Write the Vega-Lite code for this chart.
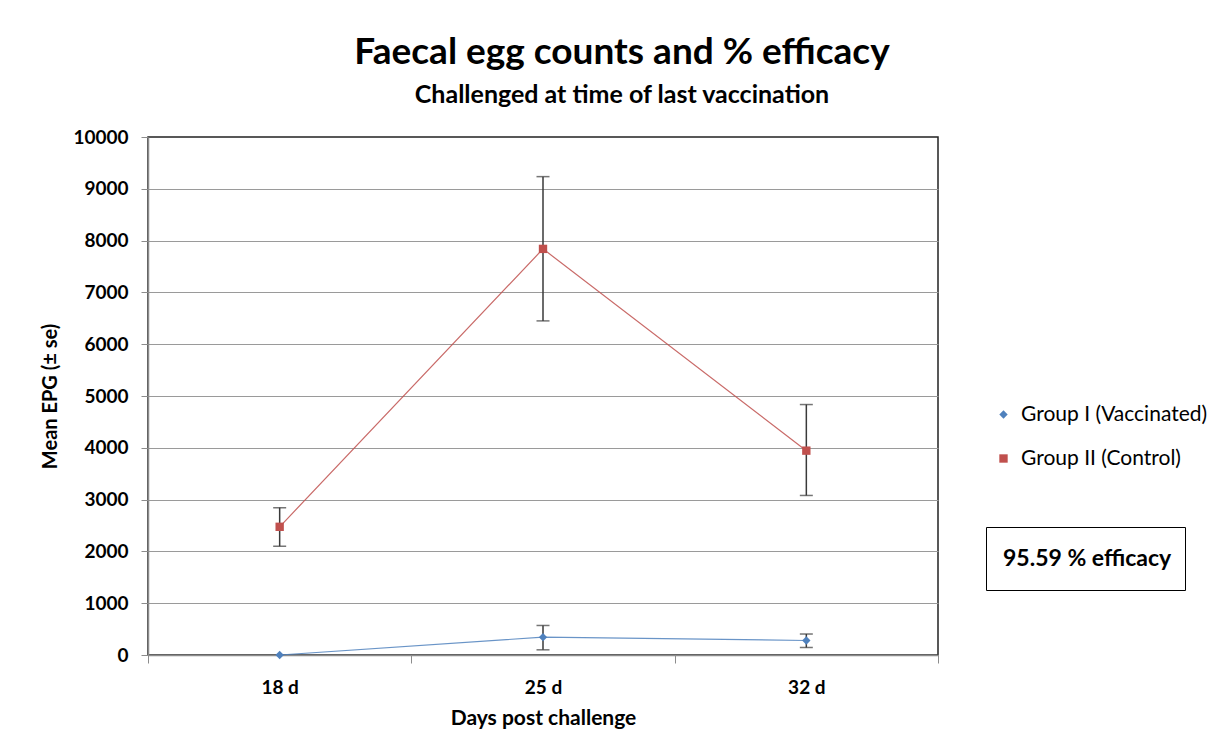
{
  "$schema": "https://vega.github.io/schema/vega-lite/v6.json",
  "autosize": "none",
  "width": 790,
  "height": 518,
  "padding": {"left": 148, "top": 137, "right": 293, "bottom": 101},
  "background": "white",
  "config": {
    "font": "Lato",
    "view": {"stroke": "#222", "strokeWidth": 1.5},
    "axis": {"labelColor": "black", "titleColor": "black", "domainColor": "#8c8c8c", "tickColor": "#8c8c8c", "domainWidth": 1.5}
  },
  "title": {
    "text": "Faecal egg counts and % efficacy",
    "subtitle": "Challenged at time of last vaccination",
    "fontSize": 37,
    "fontWeight": "bold",
    "subtitleFontSize": 25,
    "subtitleFontWeight": "bold",
    "color": "black",
    "subtitleColor": "black",
    "anchor": "middle",
    "dx": 79,
    "offset": 19,
    "subtitlePadding": 11
  },
  "datasets": {
    "epg": [
      {"group": "Group I (Vaccinated)", "day": "18 d", "mean": 0, "lo": null, "hi": null},
      {"group": "Group I (Vaccinated)", "day": "25 d", "mean": 345, "lo": 100, "hi": 570},
      {"group": "Group I (Vaccinated)", "day": "32 d", "mean": 280, "lo": 145, "hi": 405},
      {"group": "Group II (Control)", "day": "18 d", "mean": 2475, "lo": 2100, "hi": 2845},
      {"group": "Group II (Control)", "day": "25 d", "mean": 7840, "lo": 6450, "hi": 9235},
      {"group": "Group II (Control)", "day": "32 d", "mean": 3945, "lo": 3080, "hi": 4835}
    ],
    "note": [{"note": "95.59 % efficacy"}]
  },
  "layer": [
    {
      "data": {"name": "epg"},
      "encoding": {
        "x": {
          "field": "day",
          "type": "ordinal",
          "scale": {"type": "band", "paddingInner": 0, "paddingOuter": 0},
          "axis": {
            "title": "Days post challenge",
            "labelAngle": 0,
            "labelFontSize": 19,
            "labelFontWeight": "bold",
            "labelPadding": 15,
            "tickBand": "extent",
            "tickSize": 8,
            "titleFontSize": 21,
            "titleFontWeight": "bold",
            "titlePadding": 10,
            "grid": false
          }
        }
      },
      "layer": [
        {
          "mark": {"type": "rule", "color": "#3a3a3a", "strokeWidth": 1.5},
          "encoding": {
            "y": {"field": "lo", "type": "quantitative"},
            "y2": {"field": "hi"}
          }
        },
        {
          "mark": {"type": "tick", "color": "#3a3a3a", "size": 13, "thickness": 1.5},
          "encoding": {"y": {"field": "lo", "type": "quantitative"}}
        },
        {
          "mark": {"type": "tick", "color": "#3a3a3a", "size": 13, "thickness": 1.5},
          "encoding": {"y": {"field": "hi", "type": "quantitative"}}
        },
        {
          "mark": {"type": "line", "strokeWidth": 1.2, "opacity": 0.85},
          "encoding": {
            "y": {"field": "mean", "type": "quantitative"},
            "stroke": {"field": "group", "type": "nominal", "scale": {"range": ["#4f81bd", "#c0504d"]}, "legend": null},
            "detail": {"field": "group"}
          }
        },
        {
          "mark": {"type": "point", "filled": true, "opacity": 1},
          "encoding": {
            "y": {
              "field": "mean",
              "type": "quantitative",
              "scale": {"domain": [0, 10000]},
              "axis": {
                "title": "Mean EPG (± se)",
                "values": [0, 1000, 2000, 3000, 4000, 5000, 6000, 7000, 8000, 9000, 10000],
                "format": "d",
                "labelFontSize": 19,
                "labelFontWeight": "bold",
                "labelPadding": 13,
                "tickSize": 7,
                "titleFontSize": 20,
                "titleFontWeight": "bold",
                "titlePadding": 12,
                "gridColor": {"condition": {"test": "datum.value >= 10000", "value": "transparent"}, "value": "#9a9a9a"},
                "gridWidth": 1
              }
            },
            "color": {
              "field": "group",
              "type": "nominal",
              "scale": {"range": ["#4f81bd", "#c0504d"]},
              "legend": {
                "title": null,
                "orient": "none",
                "legendX": 845,
                "legendY": 267,
                "padding": 0,
                "rowPadding": 22,
                "symbolSize": 70,
                "labelFontSize": 21,
                "labelColor": "black",
                "labelOffset": 7,
                "labelLimit": 300
              }
            },
            "shape": {"field": "group", "type": "nominal", "scale": {"range": ["diamond", "square"]}, "legend": null},
            "size": {"value": 70}
          }
        }
      ]
    },
    {
      "data": {"name": "note"},
      "mark": {"type": "point", "filled": true, "size": 0},
      "encoding": {
        "fill": {
          "field": "note",
          "type": "nominal",
          "scale": {"range": ["transparent"]},
          "legend": {
            "title": null,
            "orient": "none",
            "legendX": 838,
            "legendY": 390,
            "padding": 13,
            "strokeColor": "black",
            "symbolSize": 1369,
            "symbolStrokeWidth": 0,
            "labelOffset": -33,
            "labelFontSize": 23,
            "labelFontWeight": "bold",
            "labelColor": "black",
            "labelLimit": 300,
            "encode": {
              "legend": {"update": {"strokeWidth": {"value": 1.5}}},
              "symbols": {"update": {"fill": {"value": "transparent"}, "stroke": {"value": "transparent"}}}
            }
          }
        }
      }
    }
  ]
}
